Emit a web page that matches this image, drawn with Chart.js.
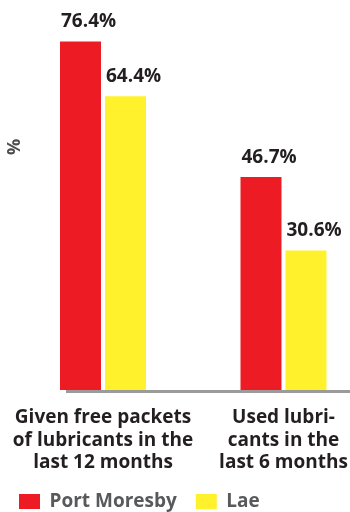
<!DOCTYPE html>
<html><head><meta charset="utf-8">
<script src="https://cdn.jsdelivr.net/npm/chart.js@4.4.0/dist/chart.umd.min.js"></script>
<style>html,body{margin:0;padding:0;background:#fff;overflow:hidden}#wrap{width:350px;height:512px;position:relative}</style>
</head><body><div id="wrap"><canvas id="c" width="350" height="512"></canvas></div>
<script>
const categories = [["Given free packets","of lubricants in the","last 12 months"],["Used lubri-","cants in the","last 6 months"]];
const seriesNames = ["Port Moresby","Lae"];
const portMoresby = [76.4, 46.7];
const lae = [64.4, 30.6];
const axisTitle = "%";
const colors = ["#ED1C24","#FFF22C"];

Chart.defaults.font.family = "'Open Sans', sans-serif";

const valueLabels = {
  id: 'valueLabels',
  afterDatasetsDraw(chart) {
    const ctx = chart.ctx;
    ctx.save();
    ctx.font = "700 19px 'Open Sans'";
    ctx.fillStyle = '#231f20';
    ctx.textAlign = 'left';
    ctx.textBaseline = 'alphabetic';
    chart.data.datasets.forEach((ds, i) => {
      chart.getDatasetMeta(i).data.forEach((bar, j) => {
        ctx.fillText(ds.data[j].toFixed(1) + '%', bar.x - bar.width / 2 + 1, bar.y - 14);
      });
    });
    ctx.restore();
  }
};

const axisDecor = {
  id: 'axisDecor',
  beforeDatasetsDraw(chart) {
    const {ctx, chartArea} = chart;
    const x0 = chart.scales.x.getPixelForValue(0) - 37;
    ctx.save();
    ctx.strokeStyle = '#9b9b9b';
    ctx.lineWidth = 3;
    ctx.beginPath();
    ctx.moveTo(x0, chartArea.bottom + 1.5);
    ctx.lineTo(chart.width, chartArea.bottom + 1.5);
    ctx.stroke();
    ctx.translate(15, 147);
    ctx.rotate(-Math.PI / 2);
    ctx.font = "700 18px 'Open Sans'";
    ctx.fillStyle = '#4d4d4f';
    ctx.textAlign = 'center';
    ctx.textBaseline = 'middle';
    ctx.fillText(axisTitle, 0, 0);
    ctx.restore();
  }
};

new Chart(document.getElementById('c'), {
  type: 'bar',
  data: {
    labels: categories,
    datasets: [
      {label: seriesNames[0], data: portMoresby, backgroundColor: colors[0], categoryPercentage: 0.4986, barPercentage: 0.911, clip: false},
      {label: seriesNames[1], data: lae, backgroundColor: colors[1], categoryPercentage: 0.4986, barPercentage: 0.911, clip: false}
    ]
  },
  options: {
    responsive: false,
    animation: false,
    devicePixelRatio: 1,
    layout: {padding: {top: 25, left: 0, right: 0, bottom: -9}},
    plugins: {
      legend: {
        position: 'bottom', align: 'start',
        labels: {boxWidth: 21, boxHeight: 15, padding: 19, color: '#58595b', font: {size: 19, weight: '700'}}
      },
      tooltip: {enabled: false}
    },
    scales: {
      x: {
        offset: false,
        grid: {display: false, drawTicks: false},
        border: {display: false},
        ticks: {autoSkip: false, maxRotation: 0, minRotation: 0, padding: 16.5, color: '#231f20', font: {size: 19, weight: '700', lineHeight: 1.18}},
        afterFit(s) { s.paddingLeft = 103; s.paddingRight = 66.5; s.height = 83; }
      },
      y: {display: false, min: 0, max: 80}
    }
  },
  plugins: [valueLabels, axisDecor]
});
</script>
</body></html>
